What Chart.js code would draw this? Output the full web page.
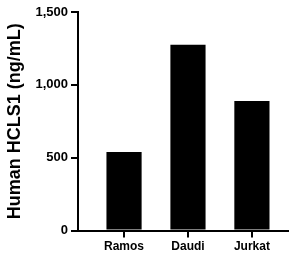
<!DOCTYPE html>
<html>
<head>
<meta charset="utf-8">
<script src="https://cdn.jsdelivr.net/npm/chart.js@4/dist/chart.umd.min.js"></script>
<style>
  html, body { margin: 0; padding: 0; background: #fff; }
  canvas { display: block; }
</style>
</head>
<body>
<canvas id="chart" width="289" height="260"></canvas>
<script>
const CATEGORIES = ['Ramos', 'Daudi', 'Jurkat'];
const VALUES = [540, 1275, 890];
const Y_TICKS = [0, 500, 1000, 1500];
const Y_TITLE = 'Human HCLS1 (ng/mL)';

const fmt = new Intl.NumberFormat('en-US');
const FONT = "'Liberation Sans', Arial, sans-serif";

new Chart(document.getElementById('chart'), {
  type: 'bar',
  data: {
    datasets: [{
      data: VALUES.map((v, i) => ({ x: i + 1, y: v })),
      backgroundColor: '#000',
      borderWidth: 0,
      barPercentage: 0.55,
      categoryPercentage: 1,
    }],
  },
  options: {
    responsive: false,
    animation: false,
    layout: { padding: { top: 12, right: 0, bottom: 4, left: 0 } },
    plugins: {
      legend: { display: false },
      tooltip: { enabled: false },
    },
    scales: {
      x: {
        type: 'linear',
        offset: false,
        min: 0.28,
        max: 3.58,
        afterBuildTicks: (scale) => {
          scale.ticks = CATEGORIES.map((c, i) => ({ value: i + 1 }));
        },
        ticks: {
          color: '#000',
          font: { family: FONT, size: 12, weight: 'bold' },
          padding: 2,
          autoSkip: false,
          maxRotation: 0,
          callback: (v) => CATEGORIES[v - 1],
        },
        grid: { offset: false, drawOnChartArea: false, color: '#000', lineWidth: 2, tickLength: 7 },
        border: { color: '#000', width: 2 },
      },
      y: {
        min: 0,
        max: 1500,
        afterBuildTicks: (scale) => {
          scale.ticks = Y_TICKS.map((v) => ({ value: v }));
        },
        afterFit: (scale) => { scale.width = 78; },
        ticks: {
          color: '#000',
          font: { family: FONT, size: 13, weight: 'bold' },
          padding: 3,
          callback: (v) => fmt.format(v),
        },
        grid: { drawOnChartArea: false, color: '#000', lineWidth: 2, tickLength: 7 },
        border: { color: '#000', width: 2 },
        title: {
          display: true,
          text: Y_TITLE,
          color: '#000',
          font: { family: FONT, size: 18, weight: 'bold' },
          padding: { top: 4, bottom: 0 },
        },
      },
    },
  },
});
</script>
</body>
</html>
